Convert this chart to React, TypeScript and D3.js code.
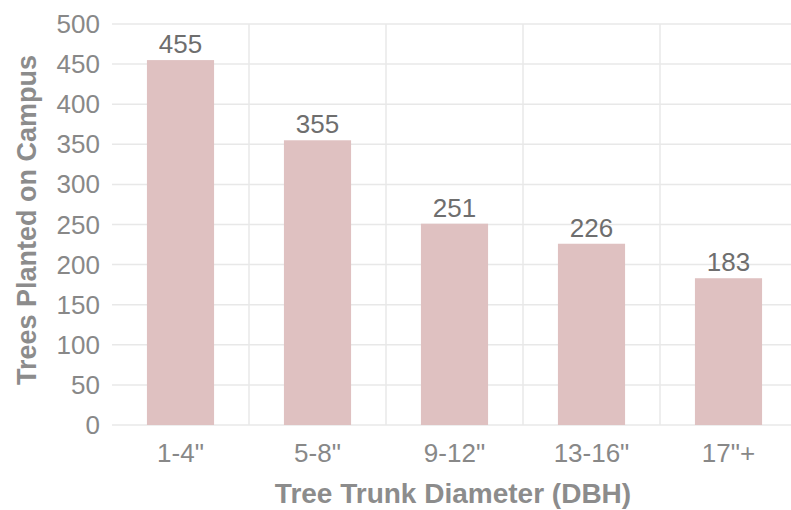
import React from "react";
import * as d3 from "d3";

const categories = ['1-4"', '5-8"', '9-12"', '13-16"', '17"+'];
const values = [455, 355, 251, 226, 183];
const yTicks = [0, 50, 100, 150, 200, 250, 300, 350, 400, 450, 500];

const W = 791;
const H = 510;
const left = 112;
const step = 137;
const top = 24;
const bottom = 425;

export default function App() {
  const x = d3
    .scaleBand<string>()
    .domain(categories)
    .range([left, left + step * categories.length])
    .paddingInner(0.51)
    .paddingOuter(0.255);
  const y = d3.scaleLinear().domain([0, 500]).range([bottom, top]);
  const font = "Arial, 'Liberation Sans', sans-serif";
  return (
    <svg
      width={W}
      height={H}
      style={{ position: "absolute", left: 0, top: 0, background: "#fff" }}
    >
      {yTicks.map((t) => (
        <line
          key={"g" + t}
          x1={left}
          x2={W}
          y1={y(t)}
          y2={y(t)}
          stroke="#e8e8e8"
          strokeWidth={1.5}
        />
      ))}
      {categories.slice(1).map((c, i) => (
        <line
          key={"v" + c}
          x1={left + step * (i + 1)}
          x2={left + step * (i + 1)}
          y1={top}
          y2={bottom}
          stroke="#e8e8e8"
          strokeWidth={1.5}
        />
      ))}
      {categories.map((c, i) => (
        <rect
          key={"b" + c}
          x={x(c)}
          y={y(values[i])}
          width={x.bandwidth()}
          height={y(0) - y(values[i])}
          fill="#dfc1c1"
        />
      ))}
      {categories.map((c, i) => (
        <text
          key={"l" + c}
          x={(x(c) as number) + x.bandwidth() / 2}
          y={y(values[i]) - 7}
          textAnchor="middle"
          fontFamily={font}
          fontSize={26}
          fill="#6e6e6e"
        >
          {values[i]}
        </text>
      ))}
      {yTicks.map((t) => (
        <text
          key={"t" + t}
          x={100}
          y={y(t) + 9}
          textAnchor="end"
          fontFamily={font}
          fontSize={26}
          fill="#888888"
        >
          {t}
        </text>
      ))}
      {categories.map((c) => (
        <text
          key={"x" + c}
          x={(x(c) as number) + x.bandwidth() / 2}
          y={462}
          textAnchor="middle"
          fontFamily={font}
          fontSize={26}
          fill="#888888"
        >
          {c}
        </text>
      ))}
      <text
        x={453}
        y={503}
        textAnchor="middle"
        fontFamily={font}
        fontSize={28}
        fontWeight="bold"
        fill="#8c8c8c"
      >
        Tree Trunk Diameter (DBH)
      </text>
      <text
        transform={`translate(36, 220) rotate(-90)`}
        textAnchor="middle"
        fontFamily={font}
        fontSize={27}
        fontWeight="bold"
        fill="#8c8c8c"
      >
        Trees Planted on Campus
      </text>
    </svg>
  );
}
